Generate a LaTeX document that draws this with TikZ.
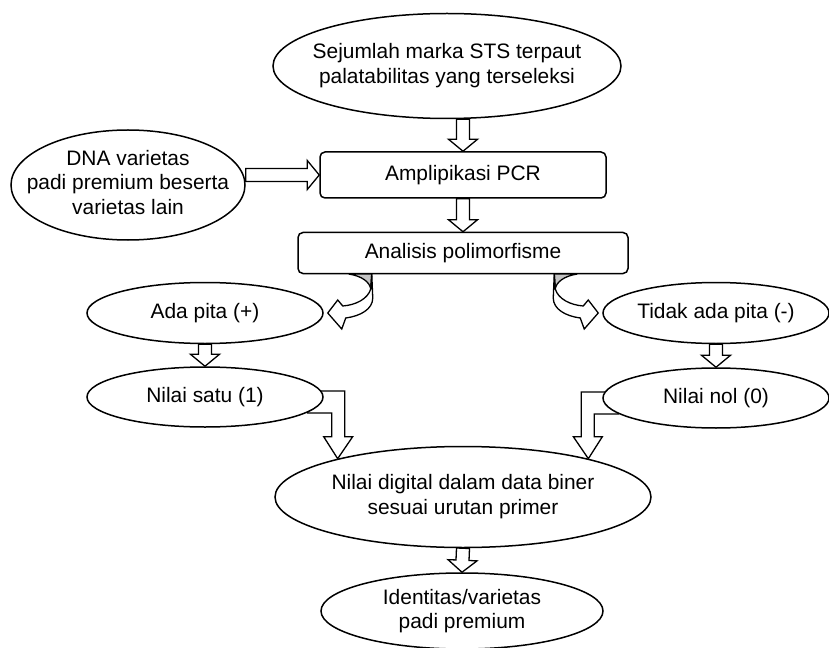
\documentclass[tikz,border=0pt]{standalone}
\usepackage{fontspec}
\setmainfont{Liberation Sans}
\usepackage{xcolor}
\usepackage{tikz}
\usetikzlibrary{
  calc,
  shapes.geometric,
  backgrounds
}
\definecolor{ribbonback}{HTML}{C4C4C4}
\newcommand{\flowfont}{\fontsize{21}{24.5}\selectfont}
\tikzset{
  oval/.style={
    draw,
    ellipse,
    fill=white,
    line width=1.5bp,
    inner xsep=-90bp,
    inner ysep=-40bp,
    align=center,
    font=\flowfont},
  stepbox/.style={
    draw,
    rectangle,
    rounded corners=5bp,
    fill=white,
    line width=1.5bp,
    inner sep=0pt,
    font=\flowfont},
  hollow/.style={
    draw,
    fill=white,
    line width=1.3bp,
    to path={
      ($(\tikztostart)!6.5bp!90:(\tikztotarget)$)
      -- ($(\tikztotarget)!13.7bp!-28.4:(\tikztostart)$)
      -- ($(\tikztotarget)!18.8bp!-50.4:(\tikztostart)$)
      -- (\tikztotarget)
      -- ($(\tikztotarget)!18.8bp!50.4:(\tikztostart)$)
      -- ($(\tikztotarget)!13.7bp!28.4:(\tikztostart)$)
      -- ($(\tikztostart)!6.5bp!-90:(\tikztotarget)$)
      -- cycle}},
  bent/.style={
    draw,
    fill=white,
    line width=1.3bp},
  ribbon front/.style={
    draw,
    fill=white,
    line width=1.3bp},
  ribbon back/.style={
    draw,
    fill=ribbonback,
    line width=1.3bp}
}

\begin{document}
\begin{tikzpicture}[x=1bp, y=-1bp]
      \useasboundingbox (0,0) rectangle (829,648);
      \node[oval, minimum width=348bp, minimum height=105bp] (sts) at (447,66)
        {\raisebox{-3bp}{\begin{tabular}{@{}c@{}}Sejumlah marka STS terpaut\\palatabilitas yang terseleksi\end{tabular}}};
      \node[oval, minimum width=234bp, minimum height=110bp] (dna) at (128,185)
        {\raisebox{11bp}{\begin{tabular}{@{}c@{}}DNA varietas\\padi premium beserta\\varietas lain\end{tabular}}};
      \node[stepbox, minimum width=286bp, minimum height=46bp] (pcr) at (463,175)
        {Amplipikasi PCR};
      \node[stepbox, minimum width=330bp, minimum height=41bp] (polimorf) at (463,253)
        {Analisis polimorfisme};
      \node[oval, minimum width=236bp, minimum height=61bp] (ada) at (205,313)
        {Ada pita (+)};
      \node[oval, minimum width=226bp, minimum height=61bp] (tidak) at (716,313)
        {Tidak ada pita (-)};
      \node[oval, minimum width=236bp, minimum height=60bp] (satu) at (205,397)
        {Nilai satu (1)};
      \node[oval, minimum width=226bp, minimum height=60bp] (nol) at (716,398)
        {Nilai nol (0)};
      \node[oval, minimum width=376bp, minimum height=101bp] (biner) at (463,497)
        {\raisebox{2bp}{\begin{tabular}{@{}c@{}}Nilai digital dalam data biner\\sesuai urutan primer\end{tabular}}};
      \node[oval, minimum width=282bp, minimum height=76bp] (ident) at (462,611)
        {Identitas/varietas\\padi premium};

      % straight block arrows
      \begin{scope}[on background layer]
      \path
      (sts.south -| pcr.north) edge[hollow] (pcr.north)
      (dna.east |- pcr.west) edge[hollow] (pcr.west)
      (pcr.south) edge[hollow] (polimorf.north)
      (ada.south) edge[hollow] (satu.north)
      (tidak.south) edge[hollow] (nol.north)
      (biner.south) edge[hollow] (ident.north);
      % bent arrows into the binary value
      \coordinate (tipl) at (biner.163);
      \coordinate (tipr) at (biner.17);
      \draw[bent] ([shift={(-16,-6)}]satu.east) -| ([shift={(7,-22)}]tipl)
        -- ++(8,0) -- (tipl) -- ++(-14,-22) -- ++(8,0)
        |- ([shift={(-16,16)}]satu.east) -- cycle;
      \draw[bent] ([shift={(16,-6)}]nol.west) -| ([shift={(-7,-22)}]tipr)
        -- ++(-8,0) -- (tipr) -- ++(14,-22) -- ++(-8,0)
        |- ([shift={(16,16)}]nol.west) -- cycle;
      \end{scope}

      % curved arrows out of the analysis box
      \begin{scope}[shift={(ada.east)}]
        \draw[ribbon back] (25,-39) .. controls (38,-37) and (46,-31) .. (47,-24) -- (48,-39) -- cycle;
        \draw[ribbon front] (48,-39) -- (49,-15) .. controls (49,-4) and (37,3) .. (22,5)
          -- (18,16) -- (4,0) -- (14,-13) -- (19,-7)
          .. controls (32,-8) and (44,-14) .. (47,-24) -- cycle;
      \end{scope}
      \begin{scope}[shift={(tidak.west)}, xscale=-1]
        \draw[ribbon back] (25,-39) .. controls (38,-37) and (46,-31) .. (47,-24) -- (48,-39) -- cycle;
        \draw[ribbon front] (48,-39) -- (49,-15) .. controls (49,-4) and (37,3) .. (22,5)
          -- (18,16) -- (4,0) -- (14,-13) -- (19,-7)
          .. controls (32,-8) and (44,-14) .. (47,-24) -- cycle;
      \end{scope}
    \end{tikzpicture}
\end{document}
